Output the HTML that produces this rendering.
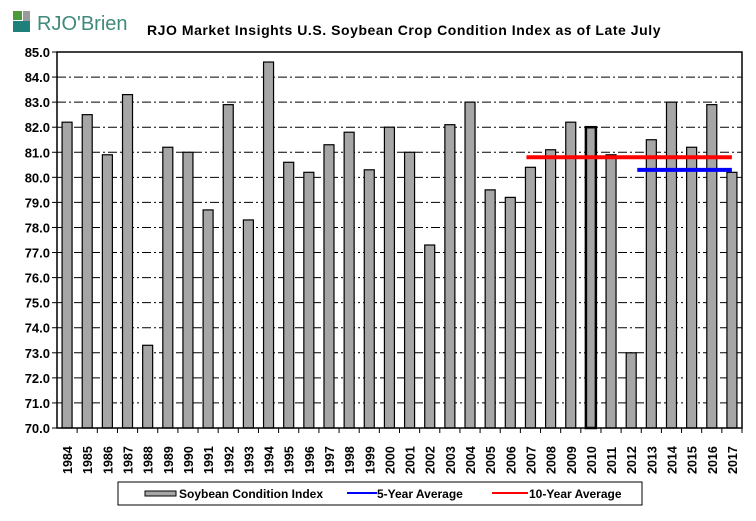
<!DOCTYPE html>
<html><head><meta charset="utf-8"><style>
body{margin:0;background:#fff;width:756px;height:516px;overflow:hidden;font-family:"Liberation Sans",Arial,sans-serif}
svg text{font-family:"Liberation Sans",Arial,sans-serif}
</style></head><body>
<svg id="chart" width="756" height="516" xmlns="http://www.w3.org/2000/svg">
<g>
<rect x="13" y="11" width="9" height="9" fill="#4d9a3c"/>
<rect x="23" y="11" width="7" height="12" fill="#9a9a9a"/>
<polygon points="13,21 30,21 30,32 13,32" fill="#1f7f7a"/>
<text x="37" y="30" font-size="20" fill="#3f8a7a" font-family="Liberation Serif">RJO'Brien</text>
</g>
<text x="147" y="35" font-size="14" font-weight="bold" letter-spacing="0.55" fill="#000">RJO Market Insights U.S. Soybean Crop Condition Index as of Late July</text>
<g id="grid"></g><g id="bars"></g><g id="axes"></g>
<g>
<rect x="118" y="482" width="524" height="23" fill="#fff" stroke="#000"/>
<rect x="145" y="491" width="31" height="5" fill="#a6a6a6" stroke="#000"/>
<text x="179" y="498" font-size="12" font-weight="bold">Soybean Condition Index</text>
<line x1="347" y1="493" x2="377" y2="493" stroke="#0000ff" stroke-width="2"/>
<text x="377" y="498" font-size="12" font-weight="bold">5-Year Average</text>
<line x1="492" y1="493" x2="528" y2="493" stroke="#ff0000" stroke-width="2"/>
<text x="529" y="498" font-size="12" font-weight="bold">10-Year Average</text>
</g>
</svg>
<script>
const years=[1984,1985,1986,1987,1988,1989,1990,1991,1992,1993,1994,1995,1996,1997,1998,1999,2000,2001,2002,2003,2004,2005,2006,2007,2008,2009,2010,2011,2012,2013,2014,2015,2016,2017];
const values=[82.2,82.5,80.9,83.3,73.3,81.2,81.0,78.7,82.9,78.3,84.6,80.6,80.2,81.3,81.8,80.3,82.0,81.0,77.3,82.1,83.0,79.5,79.2,80.4,81.1,82.2,82.0,80.9,73.0,81.5,83.0,81.2,82.9,80.2];
const yTicks=[70,71,72,73,74,75,76,77,78,79,80,81,82,83,84,85];
const avg5=80.3, avg5Start=2012.5, avg5End=2016.8;
const avg10=80.8, avg10Start=2007, avg10End=2016.8;
const NS="http://www.w3.org/2000/svg";
const L=57,R=742,T=52,B=428,ymin=70,ymax=85;
const bw=(R-L)/years.length;
const y=v=>B-(v-ymin)/(ymax-ymin)*(B-T);
const xc=i=>L+bw*(i+0.5);
const xy=yr=>xc(yr-years[0]);
function mk(tag,a,p){const e=document.createElementNS(NS,tag);for(const k in a)e.setAttribute(k,a[k]);p.appendChild(e);return e;}
const grid=document.getElementById('grid'),bars=document.getElementById('bars'),axes=document.getElementById('axes');
yTicks.forEach(t=>{
  if(t>ymin&&t<ymax){const g=mk('line',{x1:L,x2:R,y1:y(t),y2:y(t),stroke:'#000','stroke-dasharray':'9,3,2,3'},grid);
  
  }
  const tk=mk('line',{x1:L-5,x2:L,y1:y(t),y2:y(t),stroke:'#000'},axes);
  
  
  const tx=mk('text',{x:L-7,y:y(t)+5,'text-anchor':'end','font-size':13,'font-weight':'bold'},axes);
  tx.textContent=t.toFixed(1);
  
  
});
years.forEach((yr,i)=>{
  const b=mk('rect',{x:xc(i)-5,y:y(values[i]),width:10,height:B-y(values[i]),fill:'#a6a6a6',stroke:'#000','stroke-width':yr===2010?2.5:1.2},bars);
  
  
  const tk=mk('line',{x1:L+bw*(i+1),x2:L+bw*(i+1),y1:B,y2:B+5,stroke:'#000'},axes);
  
  
  const tx=mk('text',{transform:`translate(${xc(i)+5},474) rotate(-90)`,'font-size':12.5,'font-weight':'bold'},axes);
  tx.textContent=yr;
  
  
});
const r10=mk('line',{x1:xy(avg10Start)-4,x2:xy(avg10End)+4,y1:y(avg10),y2:y(avg10),stroke:'#ff0000','stroke-width':4},bars);


const b5=mk('line',{x1:xy(avg5Start)-4,x2:xy(avg5End)+4,y1:y(avg5),y2:y(avg5),stroke:'#0000ff','stroke-width':4},bars);


const ax=mk('path',{d:`M${L},${T} L${R},${T} L${R},${B} L${L},${B} Z`,fill:'none',stroke:'#000','stroke-width':1.5},axes);


</script>
</body></html>
